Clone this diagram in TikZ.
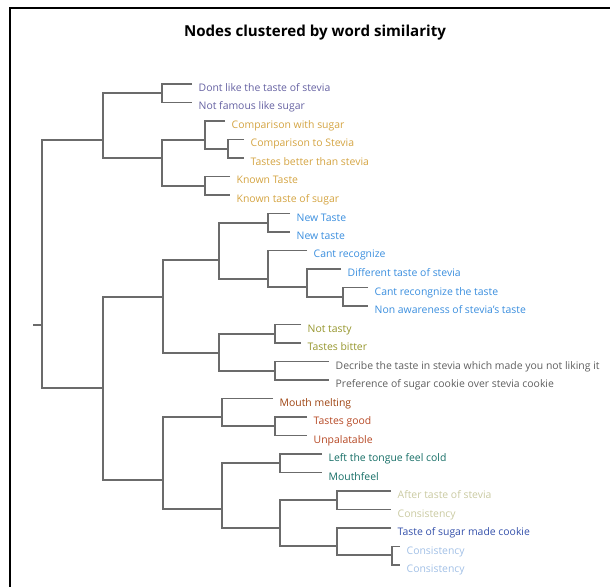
\documentclass[tikz,border=0pt]{standalone}
\usepackage{fontspec}
\setmainfont{Open Sans}

\definecolor{dendPurple}{RGB}{102,98,162}
\definecolor{dendGold}{RGB}{212,164,66}
\definecolor{dendBlue}{RGB}{58,142,222}
\definecolor{dendOlive}{RGB}{150,150,45}
\definecolor{dendGray}{RGB}{95,95,95}
\definecolor{dendBrown}{RGB}{158,68,18}
\definecolor{dendRust}{RGB}{182,72,36}
\definecolor{dendTeal}{RGB}{22,110,102}
\definecolor{dendKhaki}{RGB}{202,202,162}
\definecolor{dendNavy}{RGB}{52,80,170}
\definecolor{dendSky}{RGB}{162,192,230}

\begin{document}
\begin{tikzpicture}[x=0.03cm,y=-0.03cm,
    link/.style={draw=black!58, line width=0.9pt},
    lab/.style={anchor=base west, inner sep=0pt, xshift=5.5pt, yshift=-6.4pt,
      font=\fontsize{8.9}{10}\selectfont}]
    \useasboundingbox (0,0) rectangle (610,587);
    \draw [line width=1.2pt] (10,587) |- (610,8);

    \node [font=\bfseries\fontsize{12.9}{15}\selectfont] (title) at (315,33) {Nodes clustered by word similarity};

    % inner joins of the tree
    \coordinate (stub) at (33,325);
    \coordinate (root) at (42,325);
    \coordinate (a) at (103,140);
    \coordinate (c) at (103,388);
    \coordinate (ad) at (162,93);
    \coordinate (ao) at (162,158);
    \coordinate (b) at (205,140);
    \coordinate (bc) at (228,149);
    \coordinate (kn) at (205,186);
    \coordinate (d) at (163,297);
    \coordinate (e) at (219,260);
    \coordinate (nt) at (268,223);
    \coordinate (f) at (268,279);
    \coordinate (g) at (307,287);
    \coordinate (h) at (343,297);
    \coordinate (i) at (219,353);
    \coordinate (ta) at (275,334);
    \coordinate (dc) at (275,371);
    \coordinate (j) at (163,480);
    \coordinate (k) at (222,417);
    \coordinate (l) at (275,426);
    \coordinate (m) at (222,509);
    \coordinate (n) at (280,463);
    \coordinate (o) at (280,528);
    \coordinate (p) at (337,500);
    \coordinate (q) at (337,546);
    \coordinate (r) at (392,555);

    % leaf ends
    \coordinate (l1) at (192,84);
    \coordinate (l2) at (192,102.5);
    \coordinate (l3) at (225,121);
    \coordinate (l4) at (244,139.5);
    \coordinate (l5) at (244,158);
    \coordinate (l6) at (230,176.5);
    \coordinate (l7) at (230,195);
    \coordinate (l8) at (290,213.5);
    \coordinate (l9) at (290,232);
    \coordinate (l10) at (307,250.5);
    \coordinate (l11) at (341,269);
    \coordinate (l12) at (368,287.5);
    \coordinate (l13) at (368,306);
    \coordinate (l14) at (301,324.5);
    \coordinate (l15) at (301,343);
    \coordinate (l16) at (329,361.5);
    \coordinate (l17) at (329,380);
    \coordinate (l18) at (273,398.5);
    \coordinate (l19) at (307,417);
    \coordinate (l20) at (307,435.5);
    \coordinate (l21) at (322,454);
    \coordinate (l22) at (322,472.5);
    \coordinate (l23) at (391,491);
    \coordinate (l24) at (391,509.5);
    \coordinate (l25) at (391,528);
    \coordinate (l26) at (400,546.5);
    \coordinate (l27) at (400,565);

    \node [lab, text=dendPurple] (t1) at (l1) {Dont like the taste of stevia};
    \node [lab, text=dendPurple] (t2) at (l2) {Not famous like sugar};
    \node [lab, text=dendGold] (t3) at (l3) {Comparison with sugar};
    \node [lab, text=dendGold] (t4) at (l4) {Comparison to Stevia};
    \node [lab, text=dendGold] (t5) at (l5) {Tastes better than stevia};
    \node [lab, text=dendGold] (t6) at (l6) {Known Taste};
    \node [lab, text=dendGold] (t7) at (l7) {Known taste of sugar};
    \node [lab, text=dendBlue] (t8) at (l8) {New Taste};
    \node [lab, text=dendBlue] (t9) at (l9) {New taste};
    \node [lab, text=dendBlue] (t10) at (l10) {Cant recognize};
    \node [lab, text=dendBlue] (t11) at (l11) {Different taste of stevia};
    \node [lab, text=dendBlue] (t12) at (l12) {Cant recongnize the taste};
    \node [lab, text=dendBlue] (t13) at (l13) {Non awareness of stevia's taste};
    \node [lab, text=dendOlive] (t14) at (l14) {Not tasty};
    \node [lab, text=dendOlive] (t15) at (l15) {Tastes bitter};
    \node [lab, text=dendGray] (t16) at (l16) {Decribe the taste in stevia which made you not liking it};
    \node [lab, text=dendGray] (t17) at (l17) {Preference of sugar cookie over stevia cookie};
    \node [lab, text=dendBrown] (t18) at (l18) {Mouth melting};
    \node [lab, text=dendRust] (t19) at (l19) {Tastes good};
    \node [lab, text=dendRust] (t20) at (l20) {Unpalatable};
    \node [lab, text=dendTeal] (t21) at (l21) {Left the tongue feel cold};
    \node [lab, text=dendTeal] (t22) at (l22) {Mouthfeel};
    \node [lab, text=dendKhaki] (t23) at (l23) {After taste of stevia};
    \node [lab, text=dendKhaki] (t24) at (l24) {Consistency};
    \node [lab, text=dendNavy] (t25) at (l25) {Taste of sugar made cookie};
    \node [lab, text=dendSky] (t26) at (l26) {Consistency};
    \node [lab, text=dendSky] (t27) at (l27) {Consistency};

    \draw [link] (stub) -- (root);
    \draw [link] (a) -| (root) |- (c);

    \draw [link] (ad) -| (a) |- (ao);
    \draw [link] (l1) -| (ad) |- (l2);
    \draw [link] (b) -| (ao) |- (kn);
    \draw [link] (l3) -| (b) |- (bc);
    \draw [link] (l4) -| (bc) |- (l5);
    \draw [link] (l6) -| (kn) |- (l7);

    \draw [link] (d) -| (c) |- (j);
    \draw [link] (e) -| (d) |- (i);
    \draw [link] (nt) -| (e) |- (f);
    \draw [link] (l8) -| (nt) |- (l9);
    \draw [link] (l10) -| (f) |- (g);
    \draw [link] (l11) -| (g) |- (h);
    \draw [link] (l12) -| (h) |- (l13);
    \draw [link] (ta) -| (i) |- (dc);
    \draw [link] (l14) -| (ta) |- (l15);
    \draw [link] (l16) -| (dc) |- (l17);

    \draw [link] (k) -| (j) |- (m);
    \draw [link] (l18) -| (k) |- (l);
    \draw [link] (l19) -| (l) |- (l20);
    \draw [link] (n) -| (m) |- (o);
    \draw [link] (l21) -| (n) |- (l22);
    \draw [link] (p) -| (o) |- (q);
    \draw [link] (l23) -| (p) |- (l24);
    \draw [link] (l25) -| (q) |- (r);
    \draw [link] (l26) -| (r) |- (l27);
  \end{tikzpicture}
\end{document}
